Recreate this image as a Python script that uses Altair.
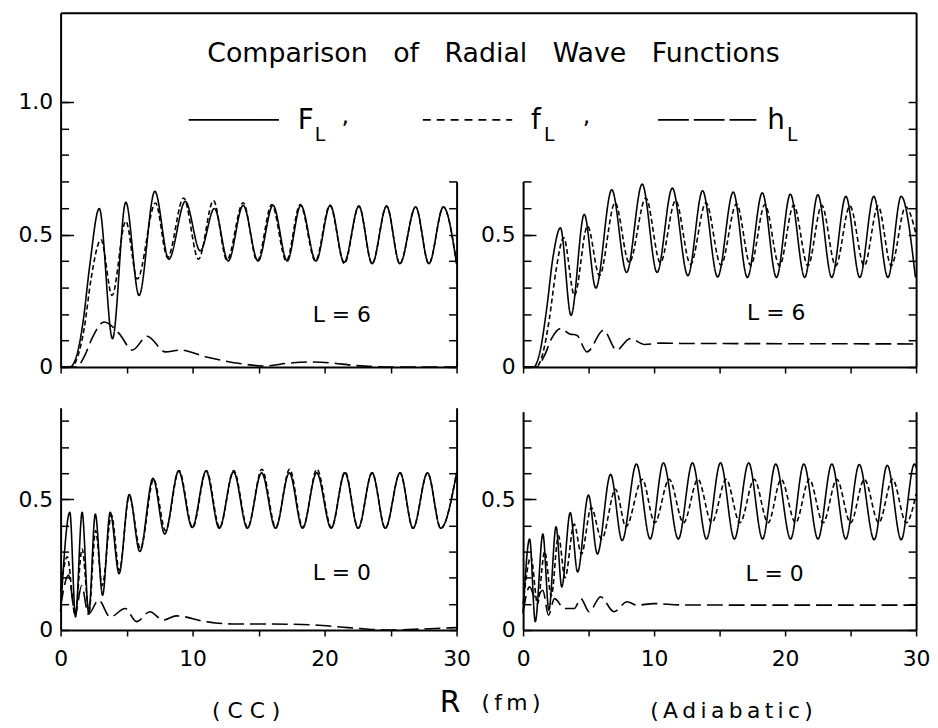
import altair as alt
import pandas as pd

FONT = "DejaVu Sans"
SERIES = ["F", "f", "h"]

# ---------------- data ----------------
# CC, L=6 (top left)
TL_F_R = [0, 0.7, 1.2, 1.7, 2.2, 2.93, 3.93, 4.94, 5.94, 7.14, 8.2, 9.45, 10.58, 11.65, 12.7, 13.83, 14.96, 16.09, 17.17, 18.2, 19.35, 20.43, 21.48, 22.6, 23.6, 24.7, 25.7, 26.9, 27.9, 29.0, 30.0]
TL_F_V = [0, 0, 0.04, 0.17, 0.38, 0.598, 0.107, 0.622, 0.27, 0.663, 0.407, 0.625, 0.438, 0.598, 0.40, 0.61, 0.40, 0.61, 0.40, 0.61, 0.40, 0.61, 0.395, 0.607, 0.39, 0.607, 0.39, 0.604, 0.39, 0.604, 0.39]
TL_f_R = [0, 0.8, 1.3, 1.8, 2.3, 3.06, 3.9, 4.94, 5.81, 7.19, 8.1, 9.32, 10.45, 11.58, 12.6, 13.83, 14.9, 16.0, 17.1, 18.15, 19.3, 20.4, 21.5, 22.6, 23.6, 24.7, 25.7, 26.9, 27.9, 29.0, 30.0]
TL_f_V = [0, 0, 0.04, 0.15, 0.33, 0.48, 0.27, 0.55, 0.332, 0.619, 0.413, 0.638, 0.407, 0.628, 0.404, 0.62, 0.40, 0.613, 0.40, 0.613, 0.40, 0.61, 0.39, 0.607, 0.39, 0.607, 0.39, 0.604, 0.39, 0.604, 0.39]
TL_h_R = [0, 1.2, 1.8, 2.4, 3.3, 4.44, 5.44, 6.56, 7.94, 9.07, 10.95, 13.46, 15.5, 17.2, 18.7, 20.4, 22.2, 24.7, 30.0]
TL_h_V = [0, 0, 0.04, 0.11, 0.17, 0.126, 0.064, 0.116, 0.057, 0.064, 0.039, 0.014, 0.004, 0.014, 0.019, 0.016, 0.006, 0, 0]

# Adiabatic, L=6 (top right)
TR_F_R = [0, 0.8, 1.3, 1.8, 2.3, 2.85, 3.66, 4.67, 5.55, 6.77, 7.9, 9.09, 10.23, 11.39, 12.58, 13.7, 14.85, 16.04, 17.12, 18.26, 19.34, 20.4, 21.5, 22.5, 23.56, 24.64, 25.7, 26.77, 27.85, 28.86, 29.95]
TR_F_V = [0, 0, 0.06, 0.22, 0.42, 0.525, 0.195, 0.576, 0.298, 0.669, 0.357, 0.69, 0.357, 0.675, 0.345, 0.665, 0.34, 0.66, 0.338, 0.657, 0.338, 0.652, 0.338, 0.65, 0.338, 0.644, 0.338, 0.644, 0.338, 0.644, 0.338]
TR_f_R = [0, 1.0, 1.5, 2.0, 2.5, 3.1, 3.92, 4.92, 5.83, 7.02, 8.1, 9.37, 10.48, 11.64, 12.78, 13.96, 15.1, 16.29, 17.37, 18.46, 19.57, 20.66, 21.74, 22.8, 23.86, 24.95, 26.04, 27.1, 28.1, 29.2, 30.0]
TR_f_V = [0, 0, 0.05, 0.18, 0.36, 0.488, 0.27, 0.532, 0.345, 0.62, 0.394, 0.638, 0.394, 0.628, 0.388, 0.62, 0.385, 0.616, 0.383, 0.613, 0.382, 0.611, 0.382, 0.61, 0.382, 0.608, 0.382, 0.607, 0.382, 0.605, 0.5]
TR_h_R = [0, 1.0, 1.6, 2.2, 2.85, 3.55, 4.1, 4.87, 6.14, 7.14, 8.16, 9.3, 10.5, 12.0, 20.0, 30.0]
TR_h_V = [0, 0, 0.04, 0.11, 0.145, 0.125, 0.12, 0.057, 0.139, 0.064, 0.107, 0.085, 0.09, 0.089, 0.088, 0.087]

# CC, L=0 (bottom left)
BL_F_R = [0, 0.7, 1.13, 1.63, 2.13, 2.63, 3.18, 3.76, 4.43, 5.2, 6.0, 7.0, 7.89, 8.94, 9.97, 11.02, 12.02, 13.1, 14.15, 15.23, 16.28, 17.33, 18.33, 19.4, 20.5, 21.54, 22.54, 23.6, 24.6, 25.72, 26.7, 27.8, 28.8, 30.0]
BL_F_V = [0.07, 0.45, 0.05, 0.45, 0.063, 0.443, 0.133, 0.45, 0.215, 0.518, 0.30, 0.58, 0.367, 0.608, 0.392, 0.608, 0.389, 0.605, 0.389, 0.601, 0.389, 0.601, 0.389, 0.601, 0.389, 0.601, 0.389, 0.601, 0.389, 0.601, 0.389, 0.601, 0.389, 0.601]
BL_f_R = [0, 0.5, 1.1, 1.63, 2.15, 2.65, 3.15, 3.85, 4.45, 5.2, 6.05, 7.05, 7.95, 8.97, 10.0, 11.05, 12.05, 13.12, 14.17, 15.25, 16.3, 17.35, 18.35, 19.42, 20.52, 21.55, 22.55, 23.6, 24.6, 25.72, 26.7, 27.8, 28.8, 30.0]
BL_f_V = [0.15, 0.28, 0.06, 0.31, 0.07, 0.38, 0.17, 0.44, 0.228, 0.513, 0.31, 0.576, 0.38, 0.61, 0.392, 0.61, 0.392, 0.61, 0.392, 0.615, 0.392, 0.615, 0.392, 0.615, 0.392, 0.605, 0.389, 0.601, 0.389, 0.601, 0.389, 0.601, 0.389, 0.601]
BL_h_R = [0, 0.6, 1.1, 1.6, 2.1, 2.88, 3.76, 4.89, 5.76, 6.76, 7.76, 8.77, 11.0, 13.0, 15.5, 19.3, 21.8, 25.0, 27.5, 30.0]
BL_h_V = [0.09, 0.21, 0.06, 0.17, 0.06, 0.114, 0.05, 0.082, 0.032, 0.07, 0.038, 0.054, 0.032, 0.023, 0.023, 0.019, 0.009, 0.0, 0.004, 0.009]

# Adiabatic, L=0 (bottom right)
BR_F_R = [0, 0.5, 0.93, 1.51, 1.97, 2.52, 2.95, 3.6, 4.16, 4.99, 5.67, 6.68, 7.56, 8.65, 9.7, 10.71, 11.85, 12.93, 14.0, 15.07, 16.13, 17.22, 18.28, 19.28, 20.42, 21.43, 22.51, 23.57, 24.63, 25.66, 26.8, 27.8, 28.86, 29.87, 30.0]
BR_F_V = [0.063, 0.348, 0.032, 0.367, 0.076, 0.395, 0.165, 0.449, 0.222, 0.516, 0.291, 0.595, 0.342, 0.635, 0.348, 0.639, 0.348, 0.639, 0.348, 0.639, 0.348, 0.639, 0.348, 0.635, 0.348, 0.635, 0.348, 0.635, 0.348, 0.633, 0.345, 0.63, 0.345, 0.635, 0.62]
BR_f_R = [0, 0.6, 1.1, 1.65, 2.15, 2.7, 3.2, 3.9, 4.45, 5.2, 6.0, 7.06, 7.85, 9.1, 10.05, 11.15, 12.25, 13.35, 14.4, 15.5, 16.55, 17.65, 18.7, 19.7, 20.8, 21.85, 22.9, 23.95, 25.0, 26.05, 27.15, 28.2, 29.25, 30.0]
BR_f_V = [0.1, 0.28, 0.1, 0.3, 0.13, 0.36, 0.2, 0.405, 0.29, 0.468, 0.348, 0.538, 0.395, 0.576, 0.41, 0.576, 0.41, 0.576, 0.41, 0.576, 0.41, 0.576, 0.41, 0.576, 0.41, 0.576, 0.41, 0.576, 0.41, 0.576, 0.41, 0.576, 0.41, 0.52]
BR_h_R = [0, 0.5, 0.95, 1.5, 1.94, 2.4, 3.15, 3.9, 4.41, 5.04, 5.92, 6.93, 7.94, 8.7, 9.96, 12.0, 20.0, 30.0]
BR_h_V = [0.07, 0.165, 0.12, 0.152, 0.057, 0.12, 0.082, 0.082, 0.12, 0.07, 0.127, 0.07, 0.108, 0.095, 0.101, 0.096, 0.095, 0.095]

X_TICKS = [0, 5, 10, 15, 20, 25, 30]
Y_TICKS_FRAME = [0.0, 0.1, 0.2, 0.3, 0.4, 0.5, 0.6, 0.7, 0.8, 0.9, 1.0]
Y_TICKS_TOP = [0.0, 0.1, 0.2, 0.3, 0.4, 0.5, 0.6, 0.7]
Y_TICKS_BOTTOM = [0.0, 0.1, 0.2, 0.3, 0.4, 0.5, 0.6, 0.7, 0.8]
Y_MAJOR_FRAME = [0.5, 1.0]
Y_MAJOR = [0.5]

TITLE = "Comparison of Radial Wave Functions"
LEGEND_NAMES = {"F": "F", "f": "f", "h": "h"}

# ---------------- table ----------------
rows = []
for panel, per in {
    "TL": {"F": (TL_F_R, TL_F_V), "f": (TL_f_R, TL_f_V), "h": (TL_h_R, TL_h_V)},
    "TR": {"F": (TR_F_R, TR_F_V), "f": (TR_f_R, TR_f_V), "h": (TR_h_R, TR_h_V)},
    "BL": {"F": (BL_F_R, BL_F_V), "f": (BL_f_R, BL_f_V), "h": (BL_h_R, BL_h_V)},
    "BR": {"F": (BR_F_R, BR_F_V), "f": (BR_f_R, BR_f_V), "h": (BR_h_R, BR_h_V)},
}.items():
    for s, (rs, vs) in per.items():
        for i, (r, v) in enumerate(zip(rs, vs)):
            rows.append({"panel": panel, "series": s, "R": r, "v": v, "i": i})
df = pd.DataFrame(rows)

# ---------------- layout (pixels inside the plot area) ----------------
W, H = 862, 622
TOP0 = 357          # y pixel of v=0 in the upper panels
PX_TOP = 267.0      # pixels per unit, upper panels
PX_BOT = 263.5      # pixels per unit, lower panels
LEFT_X = [0, 399]
RIGHT_X = [466, W]
Y_TOP_FULL = [0, TOP0 / PX_TOP]
Y_TOP_PANEL = [0, 0.7]
Y_BL = [0, 0.85]
Y_BR = [0, 0.835]

dash_scale = alt.Scale(domain=SERIES, range=[[1, 0], [5, 3], [16, 6]])


def sc(domain, rng):
    return alt.Scale(domain=domain, range=rng, nice=False, zero=False)


def yr_top(dom):
    return [TOP0, TOP0 - dom[1] * PX_TOP]


def yr_bot(dom):
    return [H, H - dom[1] * PX_BOT]


YLAB = ("datum.value == 0 ? '0' : abs(datum.value - 0.5) < 0.001 ? '0.5' : "
        "abs(datum.value - 1) < 0.001 ? '1.0' : ''")
XLAB = "datum.value % 10 == 0 ? datum.label : ''"


def y_axis(orient, values, offset, labels, tick=8, domain=True):
    kw = dict(orient=orient, values=values, offset=offset, title="", grid=False,
              tickSize={"expr": str(-tick)}, tickColor="black", tickWidth=1.5,
              domain=domain, domainColor="black", domainWidth=2, labels=labels)
    if labels:
        kw.update(labelExpr=YLAB, labelFont=FONT, labelFontSize=22, labelColor="black",
                  labelPadding=8 + tick, labelOverlap=False, labelFlush=False)
    return alt.Axis(**kw)


def x_axis(offset, labels):
    kw = dict(orient="bottom", values=X_TICKS, offset=offset, title="", grid=False,
              tickSize=6, tickColor="black", tickWidth=1.5,
              domainColor="black", domainWidth=2, labels=labels)
    if labels:
        kw.update(labelExpr=XLAB, labelFont=FONT, labelFontSize=22, labelColor="black",
                  labelPadding=13, labelOverlap=False, labelFlush=False)
    return alt.Axis(**kw)


def curves(panel, xr, ydom, yr, xax, yax):
    return alt.Chart(df).transform_filter(alt.datum.panel == panel).mark_line(
        color="black", strokeWidth=1.6, interpolate="monotone"
    ).encode(
        x=alt.X("R:Q", scale=sc([0, 30], xr), axis=xax),
        y=alt.Y("v:Q", scale=sc(ydom, yr), axis=yax),
        strokeDash=alt.StrokeDash("series:N", scale=dash_scale, legend=None),
        detail="series:N",
        order="i:Q",
    )


tl = curves("TL", LEFT_X, Y_TOP_FULL, yr_top(Y_TOP_FULL), x_axis(TOP0 - H, False),
            y_axis("left", Y_TICKS_FRAME, 0, True))
tr = curves("TR", RIGHT_X, Y_TOP_PANEL, yr_top(Y_TOP_PANEL), x_axis(TOP0 - H, False),
            y_axis("left", Y_TICKS_TOP, -RIGHT_X[0], True))
bl = curves("BL", LEFT_X, Y_BL, yr_bot(Y_BL), x_axis(0, True),
            y_axis("left", Y_TICKS_BOTTOM, 0, True))
br = curves("BR", RIGHT_X, Y_BR, yr_bot(Y_BR), x_axis(0, True),
            y_axis("left", Y_TICKS_BOTTOM, -RIGHT_X[0], True))


def text_layer(txt, x, y, size, align="left"):
    return alt.Chart(pd.DataFrame({"t": [txt]})).mark_text(
        font=FONT, fontSize=size, align=align, baseline="alphabetic", color="black"
    ).encode(x=x, y=y, text="t:N")


# frame: top border + right edge with ticks, carries the title
frame = text_layer(
    TITLE.replace(" ", "\u00a0\u00a0\u00a0"),
    alt.X(datum=0.506, scale=sc([0, 1], [0, W]),
          axis=alt.Axis(orient="top", ticks=False, labels=False, domainColor="black",
                        domainWidth=2, title="", grid=False)),
    alt.Y(datum=1.15, scale=sc(Y_TOP_FULL, yr_top(Y_TOP_FULL)),
          axis=y_axis("right", Y_TICKS_FRAME, 0, False)),
    27, align="center")

# right edges of the panels, carrying the L labels
tl_edge = text_layer(
    "L = 6",
    alt.X(datum=19.1, scale=sc([0, 30], LEFT_X), axis=None),
    alt.Y(datum=0.1685, scale=sc(Y_TOP_PANEL, yr_top(Y_TOP_PANEL)),
          axis=y_axis("right", Y_TICKS_TOP, LEFT_X[1] - W, False)),
    22)
tr_text = text_layer(
    "L = 6",
    alt.X(datum=17.1, scale=sc([0, 30], RIGHT_X), axis=None),
    alt.Y(datum=0.176, scale=sc(Y_TOP_PANEL, yr_top(Y_TOP_PANEL)), axis=None),
    22)
bl_edge = text_layer(
    "L = 0",
    alt.X(datum=19.1, scale=sc([0, 30], LEFT_X), axis=None),
    alt.Y(datum=0.19, scale=sc(Y_BL, yr_bot(Y_BL)),
          axis=y_axis("right", Y_TICKS_BOTTOM, LEFT_X[1] - W, False)),
    22)
br_edge = text_layer(
    "L = 0",
    alt.X(datum=16.97, scale=sc([0, 30], RIGHT_X), axis=None),
    alt.Y(datum=0.186, scale=sc(Y_BR, yr_bot(Y_BR)),
          axis=y_axis("right", Y_TICKS_BOTTOM, 0, False)),
    22)


# longer ticks at the labelled values of the left axes
def major(ydom, yr, values, offset):
    return text_layer(
        "",
        alt.X(datum=0, scale=sc([0, 30], LEFT_X), axis=None),
        alt.Y(datum=0, scale=sc(ydom, yr),
              axis=y_axis("left", values, offset, False, tick=13, domain=False)),
        10)


majors = [
    major(Y_TOP_FULL, yr_top(Y_TOP_FULL), Y_MAJOR_FRAME, 0),
    major(Y_TOP_PANEL, yr_top(Y_TOP_PANEL), Y_MAJOR, -RIGHT_X[0]),
    major(Y_BL, yr_bot(Y_BL), Y_MAJOR, 0),
    major(Y_BR, yr_bot(Y_BR), Y_MAJOR, -RIGHT_X[0]),
]


# legend drawn as a row of line samples with subscripted names
def legend_line(x0, x1, dash):
    return alt.Chart(pd.DataFrame({"k": [0]})).mark_rule(
        color="black", strokeWidth=1.6, strokeDash=dash
    ).encode(x=alt.value(x0), x2=alt.value(x1), y=alt.value(108))


legend = [
    legend_line(129, 220, [1, 0]),
    legend_line(365, 455, [8, 6]),
    legend_line(602, 701, [31, 5]),
    text_layer(LEGEND_NAMES["F"], alt.value(239), alt.value(117), 28),
    text_layer("L", alt.value(256), alt.value(129), 19),
    text_layer(",", alt.value(283), alt.value(111), 24),
    text_layer(LEGEND_NAMES["f"], alt.value(474), alt.value(117), 28),
    text_layer("L", alt.value(487), alt.value(129), 19),
    text_layer(",", alt.value(526), alt.value(111), 24),
    text_layer(LEGEND_NAMES["h"], alt.value(712), alt.value(117), 28),
    text_layer("L", alt.value(732), alt.value(129), 19),
]

bottom = [
    text_layer("R", alt.value(382), alt.value(705), 30),
    text_layer("(\u2009f\u2009m\u2009)", alt.value(424), alt.value(703), 22),
    text_layer("( C C )", alt.value(187), alt.value(711), 22, align="center"),
    text_layer("(\u2009A\u2009d\u2009i\u2009a\u2009b\u2009a\u2009t\u2009i\u2009c\u2009)",
               alt.value(676), alt.value(711), 22, align="center"),
]

chart = alt.layer(
    tl, tr, bl, br, frame, tl_edge, tr_text, bl_edge, br_edge, *majors, *legend, *bottom
).resolve_scale(
    x="independent", y="independent"
).properties(
    width=W, height=H,
    autosize=alt.AutoSizeParams(type="none"),
    padding={"left": 53, "top": 2, "right": 14, "bottom": 95},
    background="white",
).configure_view(stroke="transparent")

chart.save("out.html", embed_options={"renderer": "svg", "actions": False})
